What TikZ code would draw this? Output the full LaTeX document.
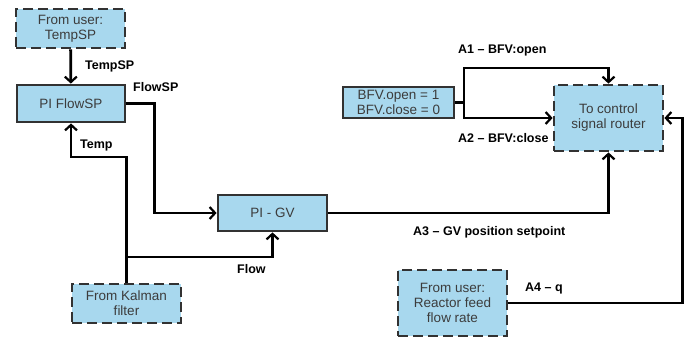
\documentclass[tikz,border=0pt]{standalone}
\usepackage{fontspec}
\setmainfont{Liberation Sans}
\usetikzlibrary{arrows.meta}
\definecolor{boxfill}{RGB}{168,216,238}
\definecolor{boxedge}{RGB}{50,50,50}
\definecolor{boxtext}{RGB}{60,60,60}
\tikzset{
  blockbase/.style={draw=boxedge, fill=boxfill, line width=2.8pt, text=boxtext,
    align=center, inner sep=0pt, font=\fontsize{13.5}{15}\selectfont},
  solidbox/.style={blockbase},
  userbox/.style={blockbase, dash pattern=on 10pt off 5pt},
  wire/.style={line width=2.8pt, draw=black},
  flow/.style={wire, -{Straight Barb[length=5.5pt,width=12pt,line width=2.2pt]}},
  sig/.style={anchor=west, inner sep=0pt, font=\bfseries\fontsize{12.5}{14}\selectfont}
}
\begin{document}
\begin{tikzpicture}[x=1pt, y=-1pt]
\useasboundingbox (0,0) rectangle (688,339);

% blocks
\node[userbox, minimum width=109pt, minimum height=39pt] (tsp) at (70.5,28.5) {From user:\\TempSP};
\node[solidbox, minimum width=108pt, minimum height=37pt] (pif) at (71,103.5) {PI FlowSP};
\node[userbox, minimum width=109pt, minimum height=39pt] (kal) at (126.5,303.5) {From Kalman\\filter};
\node[solidbox, minimum width=109pt, minimum height=36pt] (pigv) at (272.5,213) {PI - GV};
\node[solidbox, minimum width=111pt, minimum height=31pt] (bfv) at (398.5,102.5) {BFV.open = 1\\BFV.close = 0};
\node[userbox, minimum width=109pt, minimum height=66pt] (rtr) at (608.5,118) {To control\\signal router};
\node[userbox, minimum width=109pt, minimum height=66pt] (rf) at (452.5,303) {From user:\\Reactor feed\\flow rate};

% junctions
\coordinate (tj) at (126.5,157);
\coordinate (fj) at (126.5,257);
\coordinate (bj) at (464,102.5);

% connectors
\draw[flow] (tsp) -- (pif);
\draw[flow] (pif.east) -- ++(28,0) |- (pigv.west);
\draw[flow] (kal.north) -- (tj) -| (pif.south);
\draw[flow] (fj) -| (pigv.south);
\draw[flow] (pigv.east) -| (rtr.south);
\draw[wire] (bfv.east) -- (bj);
\draw[flow] (bj) -- ++(0,-34.5) -| (rtr.north);
\draw[flow] (bj) |- (rtr.west);
\draw[flow] (rf.east) -- ++(174,0) |- (rtr.east);

% signal labels
\node[sig] (lTempSP) at (85,66) {TempSP};
\node[sig] (lFlowSP) at (133,87) {FlowSP};
\node[sig] (lTemp) at (80,145) {Temp};
\node[sig] (lFlow) at (237,269) {Flow};
\node[sig] (lA1) at (458,50) {A1 -- BFV:open};
\node[sig] (lA2) at (458,138) {A2 -- BFV:close};
\node[sig] (lA3) at (413,232) {A3 -- GV position setpoint};
\node[sig] (lA4) at (525,288) {A4 -- q};
\end{tikzpicture}
\end{document}
